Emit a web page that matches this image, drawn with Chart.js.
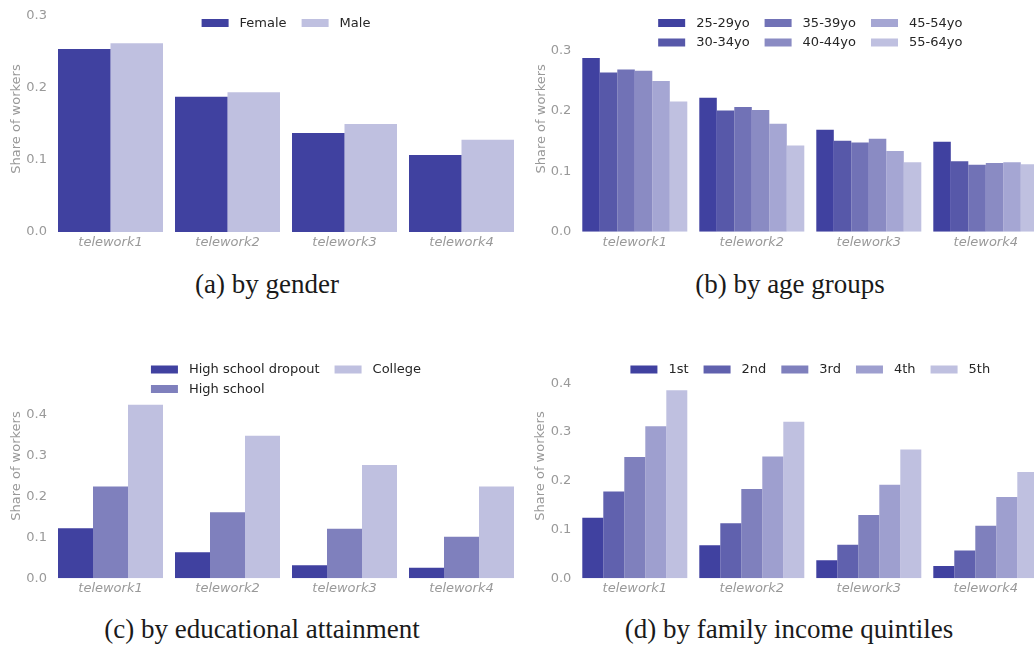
<!DOCTYPE html>
<html>
<head>
<meta charset="utf-8">
<script src="https://cdn.jsdelivr.net/npm/chart.js@4.4.0/dist/chart.umd.min.js"></script>
<style>
  html, body { margin: 0; padding: 0; background: #fff; overflow: hidden; }
  #page { position: relative; width: 1034px; height: 645px; overflow: hidden; }
  .panel { position: absolute; }
  .panel canvas { display: block; }
  .caption {
    position: absolute;
    font-family: "Liberation Serif", "DejaVu Serif", serif;
    font-size: 27px;
    line-height: 27px;
    color: #1a1a1a;
    white-space: nowrap;
    transform: translateX(-50%);
  }
</style>
</head>
<body>
<div id="page">
  <div class="panel" style="left:0px;top:0px;"><canvas id="chartGender" width="520" height="262"></canvas></div>
  <div class="panel" style="left:520px;top:0px;"><canvas id="chartAge" width="530" height="262"></canvas></div>
  <div class="panel" style="left:0px;top:345px;"><canvas id="chartEdu" width="520" height="262"></canvas></div>
  <div class="panel" style="left:520px;top:345px;"><canvas id="chartIncome" width="530" height="262"></canvas></div>

  <div class="caption" style="left:267px;top:271px;">(a) by gender</div>
  <div class="caption" style="left:790px;top:271px;">(b) by age groups</div>
  <div class="caption" style="left:262px;top:616px;">(c) by educational attainment</div>
  <div class="caption" style="left:789px;top:616px;">(d) by family income quintiles</div>
</div>

<script>
// ---- data ----
const categories = ['telework1', 'telework2', 'telework3', 'telework4'];

const genderLabels = ['Female', 'Male'];
const genderFemale = [0.254, 0.188, 0.1375, 0.107];
const genderMale   = [0.262, 0.194, 0.150, 0.128];

const ageLabels = ['25-29yo', '30-34yo', '35-39yo', '40-44yo', '45-54yo', '55-64yo'];
const age2529 = [0.288, 0.222, 0.169, 0.149];
const age3034 = [0.264, 0.201, 0.151, 0.117];
const age3539 = [0.269, 0.207, 0.148, 0.111];
const age4044 = [0.267, 0.202, 0.154, 0.114];
const age4554 = [0.250, 0.179, 0.134, 0.115];
const age5564 = [0.216, 0.143, 0.115, 0.112];

const eduLabels = ['High school dropout', 'High school', 'College'];
const eduDropout    = [0.1225, 0.064, 0.032, 0.026];
const eduHighSchool = [0.225, 0.162, 0.1215, 0.102];
const eduCollege    = [0.425, 0.349, 0.2775, 0.225];

const incomeLabels = ['1st', '2nd', '3rd', '4th', '5th'];
const income1 = [0.124, 0.068, 0.037, 0.025];
const income2 = [0.178, 0.113, 0.069, 0.057];
const income3 = [0.249, 0.183, 0.130, 0.108];
const income4 = [0.312, 0.250, 0.192, 0.167];
const income5 = [0.386, 0.321, 0.264, 0.218];

const ticksGender = [0, 0.1, 0.2, 0.3];
const ticksAge    = [0, 0.1, 0.2, 0.3];
const ticksEdu    = [0, 0.1, 0.2, 0.3, 0.4];
const ticksIncome = [0, 0.1, 0.2, 0.3, 0.4];

const yTitle = 'Share of workers';

// ---- palettes (dark navy to pale lavender) ----
const pal2 = ['#4041a0', '#bfc0e0'];
const pal3 = ['#4041a0', '#7f80bd', '#bfc0e0'];
const pal5 = ['#4041a0', '#6061ae', '#7f80bd', '#9e9fcf', '#bfc0e0'];
const pal6 = ['#4041a0', '#5758a9', '#7172b6', '#8a8bc3', '#a5a6d3', '#bfc0e0'];

const FONT = '"DejaVu Sans", "Liberation Sans", sans-serif';

// Legend drawn in a column-major grid over the top of the plot area
const gridLegend = {
  id: 'gridLegend',
  afterDraw(chart, args, opts) {
    const ctx = chart.ctx;
    const ds = chart.data.datasets;
    const ncol = opts.ncol;
    const nrow = Math.ceil(ds.length / ncol);
    const boxW = 27, boxH = 8, gap = 11, colSpace = 15, rowH = 19.5;
    ctx.save();
    ctx.font = '13px ' + FONT;
    const widths = [];
    for (let c = 0; c < ncol; c++) {
      let w = 0;
      for (let r = 0; r < nrow; r++) {
        const i = c * nrow + r;
        if (i < ds.length) w = Math.max(w, ctx.measureText(ds[i].label).width);
      }
      widths.push(boxW + gap + w);
    }
    const total = widths.reduce((a, b) => a + b, 0) + colSpace * (ncol - 1);
    const area = chart.chartArea;
    let x = (area.left + area.right) / 2 - total / 2;
    ctx.textBaseline = 'middle';
    ctx.textAlign = 'left';
    for (let c = 0; c < ncol; c++) {
      for (let r = 0; r < nrow; r++) {
        const i = c * nrow + r;
        if (i >= ds.length) continue;
        const y = opts.y + r * rowH;
        ctx.fillStyle = ds[i].backgroundColor;
        ctx.fillRect(x, y - boxH / 2, boxW, boxH);
        ctx.fillStyle = '#262626';
        ctx.fillText(ds[i].label, x + boxW + gap, y + 0.5);
      }
      x += widths[c] + colSpace;
    }
    ctx.restore();
  }
};

function makeChart(id, labels, series, colors, cfg) {
  const datasets = series.map((values, i) => ({
    label: labels[i],
    data: values,
    backgroundColor: colors[i],
    borderWidth: 0,
    categoryPercentage: 105 / 117,
    barPercentage: 1.0
  }));
  return new Chart(document.getElementById(id), {
    type: 'bar',
    data: { labels: categories, datasets },
    plugins: [gridLegend],
    options: {
      responsive: false,
      animation: false,
      devicePixelRatio: 1,
      layout: { padding: cfg.padding },
      plugins: {
        legend: { display: false },
        tooltip: { enabled: false },
        gridLegend: { ncol: cfg.ncol, y: cfg.legendY }
      },
      scales: {
        x: {
          grid: { display: false, drawTicks: false },
          border: { display: false },
          ticks: {
            color: '#999999',
            font: { family: FONT, size: 13, style: 'italic' },
            padding: 3,
            maxRotation: 0
          },
          afterFit(scale) {
            scale.height = cfg.xHeight;
            scale.paddingLeft = 0; scale.paddingRight = 0;
          }
        },
        y: {
          min: 0,
          max: cfg.yMax,
          grid: { display: false, drawTicks: false },
          border: { display: false },
          ticks: {
            color: '#999999',
            font: { family: FONT, size: 13 },
            padding: 5,
            callback: (v) => Number(v).toFixed(1)
          },
          title: {
            display: true,
            text: yTitle,
            color: '#999999',
            font: { family: FONT, size: 13 },
            padding: { top: 0, bottom: 0 }
          },
          afterBuildTicks(scale) {
            scale.ticks = cfg.ticks.map(v => ({ value: v }));
          },
          afterFit(scale) {
            scale.width = cfg.yWidth;
            scale.paddingTop = 0; scale.paddingBottom = 0;
          }
        }
      }
    }
  });
}

// (a) gender
makeChart('chartGender', genderLabels, [genderFemale, genderMale], pal2, {
  padding: { left: 9, top: 6, right: 0, bottom: 0 },
  yWidth: 43, xHeight: 30, yMax: 226 / 720, ticks: ticksGender,
  ncol: 2, legendY: 23
});

// (b) age groups
makeChart('chartAge', ageLabels, [age2529, age3034, age3539, age4044, age4554, age5564], pal6, {
  padding: { left: 14, top: 6, right: 5.7, bottom: 0 },
  yWidth: 42.3, xHeight: 30.3, yMax: 225.7 / 603, ticks: ticksAge,
  ncol: 3, legendY: 23
});

// (c) educational attainment
makeChart('chartEdu', eduLabels, [eduDropout, eduHighSchool, eduCollege], pal3, {
  padding: { left: 9, top: 8.7, right: 0, bottom: 0 },
  yWidth: 43, xHeight: 28.7, yMax: 224.6 / 408.3, ticks: ticksEdu,
  ncol: 2, legendY: 24.5
});

// (d) family income quintiles
makeChart('chartIncome', incomeLabels, [income1, income2, income3, income4, income5], pal5, {
  padding: { left: 13, top: 8.7, right: 5.7, bottom: 0 },
  yWidth: 43.3, xHeight: 28.7, yMax: 224.6 / 487.5, ticks: ticksIncome,
  ncol: 5, legendY: 24.5
});
</script>
</body>
</html>
